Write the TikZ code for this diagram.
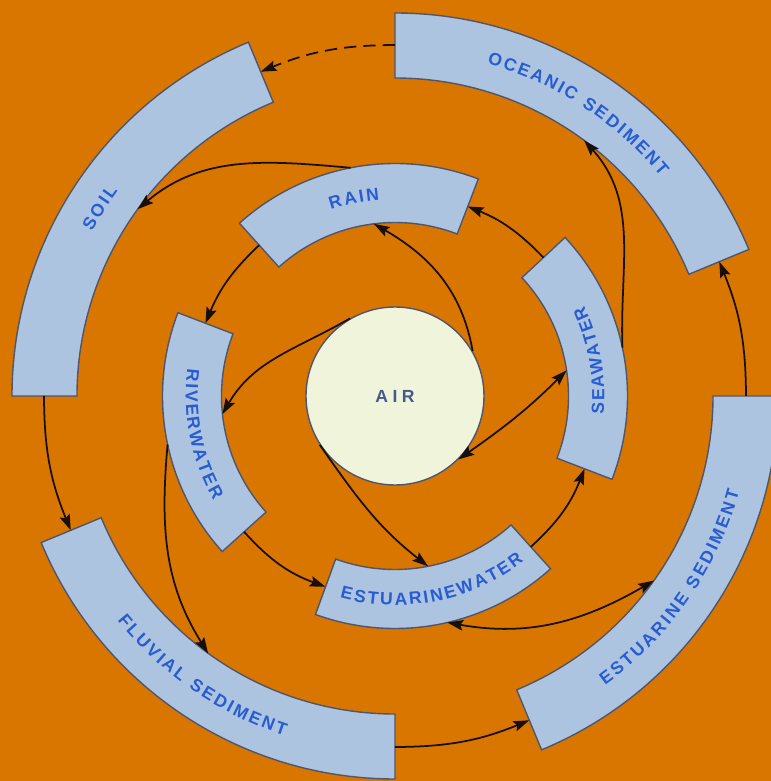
\documentclass[tikz,border=0pt]{standalone}
\usepackage{fontspec}
\usetikzlibrary{arrows.meta,decorations.text}
\newfontfamily\ringfont[Scale=1.0]{Liberation Sans}
\definecolor{soilorange}{RGB}{217,118,0}
\definecolor{segblue}{RGB}{172,196,224}
\definecolor{segedge}{RGB}{80,85,110}
\definecolor{lblblue}{RGB}{40,92,210}
\definecolor{aircream}{RGB}{240,244,218}
\definecolor{airtext}{RGB}{70,90,140}
\definecolor{arrowink}{RGB}{25,15,10}
\tikzset{
  seg/.style={fill=segblue, draw=segedge, line width=0.8pt},
  air/.style={circle, fill=aircream, draw=segedge, line width=0.8pt,
    minimum size=3.56cm, inner sep=0pt, text=airtext, font=\ringfont\bfseries},
  flow/.style={-{Stealth[length=9pt,width=6pt,inset=1.5pt]}, line width=1pt, draw=arrowink},
  twoway/.style={flow, {Stealth[length=9pt,width=6pt,inset=1.5pt]}-{Stealth[length=9pt,width=6pt,inset=1.5pt]}},
  ringtext/.style={decorate, decoration={text along path, text align={fit to path}, text color=lblblue}},
}

\begin{document}
\begin{tikzpicture}
  \useasboundingbox (-7.9,-7.7) rectangle (7.52,7.92);
  \fill[soilorange] (-7.9,-7.7) rectangle (7.52,7.92);

  % outer ring: soil, oceanic, estuarine and fluvial sediment
  \foreach \a/\b in {112.5/180, 22.5/90, -67.5/0, 202.5/270}
    \draw[seg] (\a:6.36) arc[start angle=\a, end angle=\b, radius=6.36]
      -- (\b:7.66) arc[start angle=\b, end angle=\a, radius=7.66] -- cycle;
  % inner ring: rain, seawater, estuarine water, riverwater
  \foreach \a/\b in {69/132, -21/43, -110/-48, 159/222}
    \draw[seg] (\a:3.47) arc[start angle=\a, end angle=\b, radius=3.47]
      -- (\b:4.65) arc[start angle=\b, end angle=\a, radius=4.65] -- cycle;

  \path[ringtext, decoration={text={|\ringfont\bfseries|SOIL}}]
    (151.5:6.894) arc[start angle=151.5, end angle=143.5, radius=6.894];
  \path[ringtext, decoration={text={|\ringfont\bfseries|OCEANIC SEDIMENT}}]
    (74.5:6.894) arc[start angle=74.5, end angle=39.5, radius=6.894];
  \path[ringtext, decoration={text={|\ringfont\bfseries|ESTUARINE SEDIMENT}}]
    (-54:7.146) arc[start angle=-54, end angle=-15.5, radius=7.146];
  \path[ringtext, decoration={text={|\ringfont\bfseries|FLUVIAL SEDIMENT}}]
    (219:7.146) arc[start angle=219, end angle=252, radius=7.146];
  \path[ringtext, decoration={text={|\ringfont\bfseries|RAIN}}]
    (109:3.934) arc[start angle=109, end angle=94.5, radius=3.934];
  \path[ringtext, decoration={text={|\ringfont\bfseries|SEAWATER}}]
    (-5:4.186) arc[start angle=-5, end angle=25.5, radius=4.186];
  \path[ringtext, decoration={text={|\ringfont\bfseries|ESTUARINEWATER}}]
    (-105.3:4.186) arc[start angle=-105.3, end angle=-52, radius=4.186];
  \path[ringtext, decoration={text={|\ringfont\bfseries|RIVERWATER}}]
    (172.5:4.186) arc[start angle=172.5, end angle=210, radius=4.186];

  \node[air] (air) at (0,0) {A\kern2.5pt I\kern2.5pt R};

  % segment ends (mid radius) and edges
  \coordinate (soil-top) at (112.5:7.02);
  \coordinate (soil-bot) at (180:7.02);
  \coordinate (ocean-w) at (90:7.02);
  \coordinate (ocean-e) at (22.5:7.02);
  \coordinate (estsed-top) at (0:7.02);
  \coordinate (estsed-bot) at (-67.5:7.02);
  \coordinate (fluv-top) at (202.5:7.02);
  \coordinate (fluv-bot) at (270:7.02);
  \coordinate (rain-w) at (132:4.06);
  \coordinate (rain-e) at (69:4.06);
  \coordinate (sea-top) at (43:4.06);
  \coordinate (sea-bot) at (-21:4.06);
  \coordinate (estw-e) at (-48:4.06);
  \coordinate (estw-w) at (-110:4.06);
  \coordinate (river-top) at (159:4.06);
  \coordinate (river-bot) at (222:4.06);
  \coordinate (rain-out) at (101:4.65);
  \coordinate (rain-in) at (97:3.47);
  \coordinate (soil-in) at (144:6.36);
  \coordinate (sea-out) at (12:4.65);
  \coordinate (sea-in) at (8.5:3.47);
  \coordinate (ocean-in) at (53.5:6.36);
  \coordinate (estw-out) at (-77:4.65);
  \coordinate (estw-in) at (-79:3.47);
  \coordinate (estsed-in) at (-35.5:6.36);
  \coordinate (river-in) at (186:3.47);
  \coordinate (river-out) at (192:4.65);
  \coordinate (fluv-in) at (234:6.36);

  % fluxes
  \draw[flow, dash pattern=on 7pt off 4pt] (ocean-w) to[bend right=11] (soil-top);
  \draw[flow] (soil-bot) to[bend right=11] (fluv-top);
  \draw[flow] (fluv-bot) to[bend right=11] (estsed-bot);
  \draw[flow] (estsed-top) to[bend right=11] (ocean-e);
  \draw[flow] (rain-w) to[bend right=12] (river-top);
  \draw[flow] (river-bot) to[bend right=14] (estw-w);
  \draw[flow] (estw-e) to[bend right=13] (sea-bot);
  \draw[flow] (sea-top) to[bend right=12] (rain-e);
  \draw[flow] (rain-out) to[out=175, in=40] (soil-in);
  \draw[flow] (sea-out) to[out=92, in=-48] (ocean-in);
  \draw[flow] (river-out) to[out=265, in=122] (fluv-in);
  \draw[twoway] (estw-out) to[out=-10, in=210] (estsed-in);
  \draw[flow] (air.30) to[out=100, in=-30] (rain-in);
  \draw[flow] (air.120) to[out=210, in=60] (river-in);
  \draw[flow] (air.213) to[out=-55, in=142] (estw-in);
  \draw[twoway] (air.-45) to[out=35, in=225] (sea-in);
\end{tikzpicture}
\end{document}
